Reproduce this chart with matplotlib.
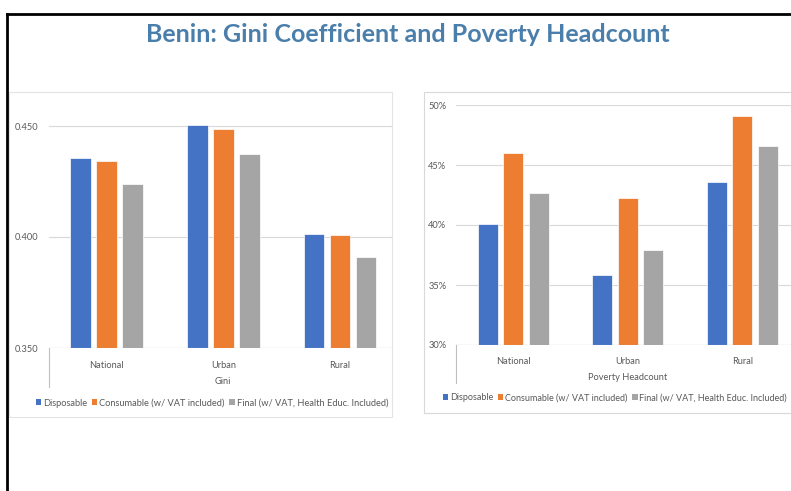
import matplotlib
matplotlib.use('Agg')
import numpy as np
import matplotlib.pyplot as plt
from matplotlib.patches import Rectangle, Patch
from matplotlib.lines import Line2D

plt.rcParams['font.family'] = ['Lato', 'DejaVu Sans']

W, H = 791, 491

regions = ["National", "Urban", "Rural"]
series = ["Disposable", "Consumable (w/ VAT included)", "Final (w/ VAT, Health Educ. Included)"]
colors = ["#4472C4", "#ED7D31", "#A5A5A5"]

gini_disposable = [0.4356, 0.4503, 0.4014]
gini_consumable = [0.4341, 0.4486, 0.4008]
gini_final = [0.4239, 0.4374, 0.3909]

pov_disposable = [0.401, 0.358, 0.4355]
pov_consumable = [0.460, 0.4225, 0.491]
pov_final = [0.427, 0.379, 0.466]

gini_ticks = [0.350, 0.400, 0.450]
pov_ticks = [0.30, 0.35, 0.40, 0.45, 0.50]

text_col = "#595959"
grid_col = "#D9D9D9"


def px(x0, y0, x1, y1):
    # pixel box (top-left origin) -> figure fraction rect
    return [x0 / W, 1 - y1 / H, (x1 - x0) / W, (y1 - y0) / H]


fig = plt.figure(figsize=(W / 100, H / 100), dpi=100)

# outer black frame and the two chart panels
fig.add_artist(Line2D([7 / W, 1], [1 - 14 / H] * 2, color="black", lw=2))
fig.add_artist(Line2D([7 / W, 7 / W], [0, 1 - 14 / H], color="black", lw=2))
fig.add_artist(Rectangle((9 / W, 1 - 417 / H), 383 / W, 325 / H, fill=False,
                         edgecolor="#E3E3E3", lw=0.8))
fig.add_artist(Rectangle((424 / W, 1 - 413 / H), 380 / W, 321 / H, fill=False,
                         edgecolor="#D9D9D9", lw=0.8))

fig.text(408 / W, 1 - 34 / H, "Benin: Gini Coefficient and Poverty Headcount",
         ha="center", va="center", fontsize=18, fontweight="bold", color="#4A7EAB")


def draw_panel(rect, values, ticks, ylim, xmax, fmt, title, sep_y, title_y, leg_y, leg_x, leg_fs):
    ax = fig.add_axes(rect)
    x = np.arange(len(regions))
    for i, (vals, c) in enumerate(zip(values, colors)):
        ax.bar(x + (i - 1) * 0.223, np.array(vals) - ylim[0], width=0.178,
               bottom=ylim[0], color=c, edgecolor="white", linewidth=0.5, zorder=3)
    ax.set_ylim(*ylim)
    ax.set_xlim(-0.5, xmax)
    ax.set_yticks(ticks)
    ax.set_yticklabels([fmt(t) for t in ticks])
    ax.set_xticks(x)
    ax.set_xticklabels(regions)
    ax.tick_params(length=0, labelsize=6.7, colors=text_col)
    ax.tick_params(axis="y", pad=7)
    ax.tick_params(axis="x", pad=9)
    for s in ax.spines.values():
        s.set_visible(False)
    ax.grid(axis="y", color=grid_col, lw=0.8, zorder=0)
    ax.axhline(ylim[0], color="#BFBFBF", lw=0.8, zorder=4)
    # multi-level category divider
    fig.add_artist(Line2D([rect[0]] * 2, [rect[1], 1 - sep_y / H], color="#BFBFBF", lw=0.8))
    fig.text(title_y[0] / W, 1 - title_y[1] / H, title, ha="center", va="center",
             fontsize=6.7, color=text_col)
    handles = [Patch(facecolor=c) for c in colors]
    fig.legend(handles, series, loc="center", bbox_to_anchor=(leg_x / W, 1 - leg_y / H),
               ncol=3, frameon=False, fontsize=leg_fs, labelcolor=text_col,
               handlelength=0.6, handleheight=0.6, handletextpad=0.2, columnspacing=0.5)
    return ax


gini_top = 126 - (0.46 - 0.45) / 0.05 * 111
draw_panel(px(48.5, gini_top, 392, 348), [gini_disposable, gini_consumable, gini_final],
           gini_ticks, (0.35, 0.46), (392 - 107) / 116.5,
           lambda t: f"{t:.3f}", "Gini", 387, (223, 381), 403, 212, 6.7)

draw_panel(px(456, 105, 791, 345), [pov_disposable, pov_consumable, pov_final],
           pov_ticks, (0.30, 0.50), (791 - 513) / 114.6,
           lambda t: f"{t * 100:.0f}%", "Poverty Headcount", 383, (628, 377), 398, 615, 6.5)

fig.savefig("out.png", dpi=100)
